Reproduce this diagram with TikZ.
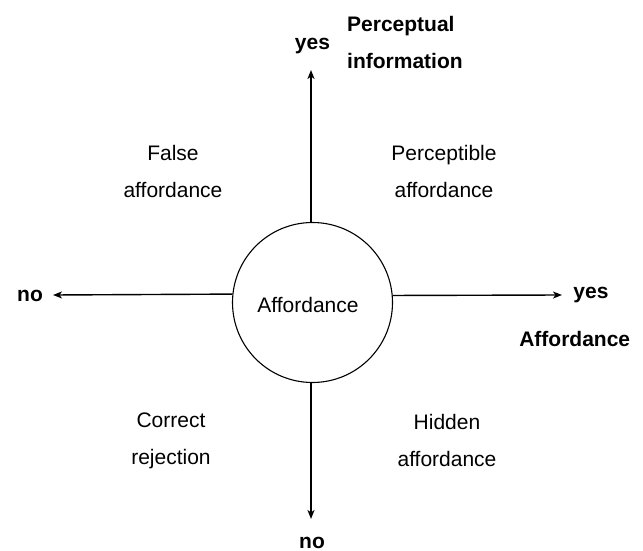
\documentclass[tikz,border=0pt]{standalone}
\usepackage{fontspec}
\setmainfont{Liberation Sans}
\usetikzlibrary{arrows.meta}
\begin{document}
\begin{tikzpicture}[x=1pt,y=-1pt,
  lbl/.style={inner sep=0pt, font=\fontsize{21}{37}\selectfont, align=center},
  blbl/.style={inner sep=0pt, font=\fontsize{21}{36.5}\selectfont\bfseries},
  axis/.style={line width=1.8pt, -{Stealth[length=9pt,width=7pt,inset=2.5pt]}},
  haxis/.style={line width=1.4pt, -{Stealth[length=9pt,width=7pt,inset=2.5pt]}},
  bubble/.style={circle, draw, line width=1.1pt, minimum size=160pt, inner sep=0pt}]
\useasboundingbox (0,0) rectangle (643,551);
\node[bubble] (c) at (312.5,302.5) {};
\node[lbl, anchor=base] (ct) at (308,312.5) {Affordance};
\coordinate (top) at (311,70);
\coordinate (bot) at (311,519);
\coordinate (lft) at (53,295);
\coordinate (rgt) at (562,295);
\draw[axis] (c.north -| top) -- (top);
\draw[axis] (c.south -| bot) -- (bot);
\draw[haxis] (c.174.6) -- (lft);
\draw[haxis] (c.5.4) -- (rgt);
\node[lbl] (fa) at (173,171) {False\\affordance};
\node[lbl] (pa) at (444,171) {Perceptible\\affordance};
\node[lbl] (cr) at (171,441) {Correct\\rejection};
\node[lbl] (ha) at (447,440) {Hidden\\affordance};
\node[blbl, anchor=base] (ytop) at (312.5,49.3) {yes};
\node[blbl, anchor=west, align=left] (pi) at (347,42.3) {Perceptual\\information};
\node[blbl, anchor=base] (yr) at (591,298) {yes};
\node[blbl, anchor=base] (ar) at (574.7,346) {Affordance};
\node[blbl, anchor=base] (nl) at (30,301.5) {no};
\node[blbl, anchor=base] (nb) at (312,548) {no};
\end{tikzpicture}
\end{document}
